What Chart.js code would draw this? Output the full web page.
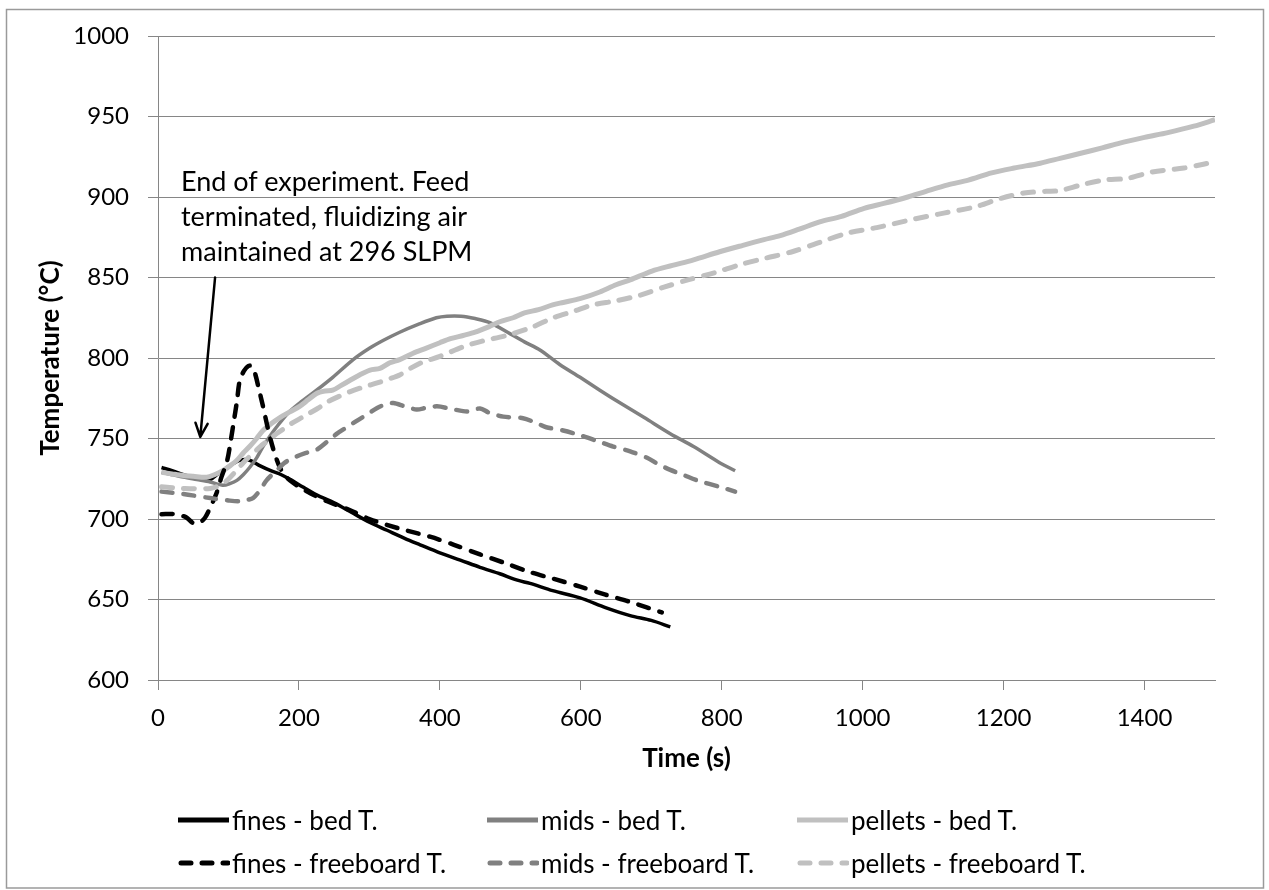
<!DOCTYPE html>
<html>
<head>
<meta charset="utf-8">
<script src="https://cdn.jsdelivr.net/npm/chart.js@4/dist/chart.umd.min.js"></script>
<style>
  html, body { margin: 0; padding: 0; background: #fff; }
  #wrap { position: relative; width: 1269px; height: 890px; }
  #c { position: absolute; left: 0; top: 0; }
  .note { position: absolute; left: 181px; top: 163px; font-family: Lato, sans-serif; font-size: 27px; line-height: 35px; color: #000; white-space: pre; }
  .leg { position: absolute; height: 36px; display: flex; align-items: center; font-family: Lato, sans-serif; font-size: 26px; color: #000; white-space: nowrap; }
  .leg svg { display: block; margin-right: 2px; }
</style>
</head>
<body>
<div id="wrap">
  <canvas id="c" width="1269" height="890"></canvas>
  <div class="note" id="note"></div>
  <div id="legend"></div>
</div>
<script>
// ---------- data ----------
const xTickValues = [0, 200, 400, 600, 800, 1000, 1200, 1400];
const yTickValues = [600, 650, 700, 750, 800, 850, 900, 950, 1000];

const timeFinesBed = [5, 20, 40, 60, 74, 85, 95, 105, 116, 130, 145, 160, 175, 190, 205, 225, 250, 275, 300, 325, 350, 372, 400, 429, 457, 485, 510, 528, 560, 599, 635, 670, 700, 727];
const tempFinesBed = [732, 730, 727, 725, 724.5, 728, 731, 734, 736.5, 736.5, 733, 730, 727.5, 724, 720, 715, 710, 704, 698, 693, 688, 684, 679, 674.5, 670, 666, 662, 660, 655.5, 651, 645, 640, 637, 633];

const timeMidsBed = [5, 20, 36, 55, 74, 92, 102, 112, 121, 130, 140, 149, 158, 168, 185, 201, 225, 248, 277, 300, 320, 343, 370, 395, 410, 430, 450, 471, 500, 520, 542, 570, 599, 627, 656, 690, 727, 760, 797, 819];
const tempMidsBed = [729, 727.5, 726, 724.5, 723, 721, 722, 724, 727.5, 732, 738, 745, 751, 757, 766, 772, 780, 788, 799, 806, 811, 816, 821, 825, 826, 826, 824.5, 822, 815, 810, 805, 796, 788, 780, 772, 763, 753, 745, 735, 730];

const timePelletsBed = [5, 20, 36, 50, 69, 80, 92, 102, 112, 121, 130, 140, 149, 160, 173, 187, 201, 213, 225, 237, 248, 260, 272, 286, 301, 315, 329, 343, 362, 380, 400, 415, 433, 450, 470, 485, 504, 520, 540, 560, 575, 600, 627, 650, 670, 701, 730, 760, 797, 830, 860, 883, 910, 939, 970, 1002, 1030, 1064, 1090, 1121, 1150, 1183, 1215, 1252, 1280, 1308, 1340, 1365, 1400, 1433, 1470, 1500];
const tempPelletsBed = [729, 728, 727, 726.5, 726, 727.5, 730, 733, 736.5, 741, 745, 750, 755, 759, 763, 766.5, 770, 774, 778, 779.5, 780, 783, 786, 789.5, 792.5, 793.5, 797, 799, 803, 806, 809.5, 812, 814, 816, 819.5, 822.5, 825, 828, 830, 833, 834.5, 837, 841, 845.5, 848.5, 854, 857.5, 861, 866, 870, 873.5, 876, 880, 884.5, 888, 893, 896, 900, 903.5, 907.5, 910.5, 915, 918, 921, 924, 927, 930.5, 933.5, 937, 940, 944, 948];

const timeFinesFree = [5, 24, 40, 50, 60, 67, 75, 83, 90, 98, 103, 107, 112, 116, 122, 128, 133, 138, 143, 149, 155, 160, 166, 173, 180, 187, 200, 216, 240, 272, 300, 343, 386, 420, 457, 490, 528, 560, 599, 635, 670, 715];
const tempFinesFree = [703, 703, 701, 697.5, 698, 701, 708, 716, 726, 736, 748, 759, 773, 786, 792, 795, 795, 790, 781, 770, 758, 749, 740, 732, 727, 724, 720, 716, 711, 705.6, 700, 694, 689, 684, 678, 673, 667, 663, 658, 653, 648.5, 642];

const timeMidsFree = [5, 36, 74, 100, 116, 128, 135, 145, 154, 168, 180, 192, 210, 225, 240, 254, 268, 282, 297, 311, 322, 334, 350, 367, 380, 396, 415, 433, 445, 457, 470, 490, 518, 535, 551, 575, 599, 623, 646, 670, 694, 710, 727, 745, 765, 797, 819];
const tempMidsFree = [717, 715.5, 713, 711.5, 711, 712, 713, 718, 724, 730, 735, 738, 741, 743, 748, 753, 757, 761, 765, 769, 771, 772, 770, 768, 769, 770, 768.5, 767, 767, 768.7, 766, 763.6, 762.6, 760, 757, 755, 752, 748.5, 745, 742, 738, 734, 730.5, 727.5, 724, 720, 717];

const timePelletsFree = [5, 36, 74, 88, 98, 110, 121, 133, 145, 157, 168, 180, 192, 204, 216, 228, 240, 256, 272, 292, 311, 328, 343, 360, 376, 400, 433, 460, 495, 530, 561, 590, 617, 650, 684, 718, 752, 790, 826, 862, 900, 940, 979, 1020, 1070, 1115, 1161, 1195, 1229, 1260, 1280, 1310, 1342, 1376, 1410, 1456, 1480, 1500];
const tempPelletsFree = [720, 719, 719, 721, 724, 729.5, 735, 740, 745, 749, 753, 756.5, 760, 763, 766, 769, 772.6, 776, 779, 782, 784.5, 787, 789.5, 794, 797.5, 801, 807, 810.5, 814, 819, 825, 829, 833, 835.5, 839, 844, 848.5, 853, 858, 862, 866, 872, 877.6, 881, 886, 890, 894, 899, 902.5, 903.5, 904, 907.5, 910.5, 911.6, 915.5, 918, 920, 922];

const seriesLabels = ['fines - bed T.', 'mids - bed T.', 'pellets - bed T.', 'fines - freeboard T.', 'mids - freeboard T.', 'pellets - freeboard T.'];
const noteLines = ['End of experiment. Feed', 'terminated, fluidizing air', 'maintained at 296 SLPM'];
const arrowTail = [81, 850];
const arrowTip = [60, 751];

// ---------- styles ----------
const seriesColors = ['#000000', '#808080', '#c0c0c0', '#000000', '#808080', '#c0c0c0'];
const seriesWidths = [3.5, 3.5, 5, 4.5, 4.5, 5];
const seriesDashed = [false, false, false, true, true, true];

const seriesTimes = [timeFinesBed, timeMidsBed, timePelletsBed, timeFinesFree, timeMidsFree, timePelletsFree];
const seriesTemps = [tempFinesBed, tempMidsBed, tempPelletsBed, tempFinesFree, tempMidsFree, tempPelletsFree];

const datasets = seriesLabels.map((lab, i) => ({
  label: lab,
  data: seriesTimes[i].map((t, k) => ({ x: t, y: seriesTemps[i][k] })),
  borderColor: seriesColors[i],
  backgroundColor: seriesColors[i],
  borderWidth: seriesWidths[i],
  borderDash: seriesDashed[i] ? [11, 11] : [],
  borderCapStyle: seriesDashed[i] ? 'round' : 'butt',
  borderJoinStyle: 'round',
  pointRadius: 0,
  tension: 0.3,
  fill: false,
  order: 10 - i
}));

const GRID = '#868686';

const framePlugin = {
  id: 'frame',
  beforeDraw(chart) {
    const ctx = chart.ctx;
    ctx.save();
    ctx.fillStyle = '#fff';
    ctx.fillRect(0, 0, chart.width, chart.height);
    ctx.strokeStyle = '#9a9a9a';
    ctx.lineWidth = 1.5;
    ctx.strokeRect(6.5, 9.5, 1257, 878.5);
    ctx.restore();
  },
  afterDatasetsDraw(chart) {
    const xs = chart.scales.x, ys = chart.scales.y;
    const x0 = xs.getPixelForValue(arrowTail[0]), y0 = ys.getPixelForValue(arrowTail[1]);
    const x1 = xs.getPixelForValue(arrowTip[0]), y1 = ys.getPixelForValue(arrowTip[1]);
    const ctx = chart.ctx;
    ctx.save();
    ctx.strokeStyle = '#000';
    ctx.lineWidth = 2.5;
    ctx.lineCap = 'round';
    ctx.lineJoin = 'round';
    ctx.beginPath();
    ctx.moveTo(x0, y0);
    ctx.lineTo(x1, y1);
    const ang = Math.atan2(y1 - y0, x1 - x0);
    const L = 15, a = 0.42;
    ctx.moveTo(x1 - L * Math.cos(ang - a), y1 - L * Math.sin(ang - a));
    ctx.lineTo(x1, y1);
    ctx.lineTo(x1 - L * Math.cos(ang + a), y1 - L * Math.sin(ang + a));
    ctx.stroke();
    ctx.restore();
  }
};

const plainLabel = v => String(v);

new Chart(document.getElementById('c'), {
  type: 'line',
  data: { datasets },
  plugins: [framePlugin],
  options: {
    responsive: false,
    animation: false,
    layout: { padding: { left: 0, top: 36, right: 54, bottom: 110 } },
    plugins: { legend: { display: false }, tooltip: { enabled: false } },
    scales: {
      x: {
        type: 'linear', min: 0, max: 1500,
        afterBuildTicks: s => { s.ticks = xTickValues.map(v => ({ value: v })); },
        afterFit: s => { s.height = 100; },
        ticks: { font: { family: 'Lato', size: 24 }, color: '#000', padding: 14, maxRotation: 0, autoSkip: false, callback: plainLabel },
        grid: { drawOnChartArea: false, drawTicks: true, tickLength: 10, color: GRID },
        border: { color: GRID, width: 1 },
        title: { display: true, text: 'Time (s)', color: '#000', font: { family: 'Lato', size: 26, weight: 'bold' }, padding: { top: 0, bottom: 6 } }
      },
      y: {
        type: 'linear', min: 600, max: 1000,
        afterBuildTicks: s => { s.ticks = yTickValues.map(v => ({ value: v })); },
        afterFit: s => { s.width = 158; },
        ticks: { font: { family: 'Lato', size: 24 }, color: '#000', padding: 19, callback: plainLabel },
        grid: { color: GRID, tickLength: 10, drawTicks: true },
        border: { color: GRID, width: 1 },
        title: { display: true, text: 'Temperature (°C)', color: '#000', font: { family: 'Lato', size: 26, weight: 'bold' }, padding: { top: 35, bottom: 0 } }
      }
    }
  }
});

// annotation text
document.getElementById('note').textContent = noteLines.join('\n');

// legend (3 columns x 2 rows)
const legCols = [178, 487, 797];
const legRows = [820, 863];
const legend = document.getElementById('legend');
seriesLabels.forEach((lab, i) => {
  const col = i % 3, row = Math.floor(i / 3);
  const d = document.createElement('div');
  d.className = 'leg';
  d.style.left = legCols[col] + 'px';
  d.style.top = (legRows[row] - 18) + 'px';
  const dash = seriesDashed[i] ? 'stroke-dasharray="10 11" stroke-linecap="round"' : 'stroke-linecap="butt"';
  const x1 = seriesDashed[i] ? 3 : 0, x2 = seriesDashed[i] ? 50 : 51;
  d.innerHTML = '<svg width="52" height="12"><line x1="' + x1 + '" y1="6" x2="' + x2 + '" y2="6" stroke="' + seriesColors[i] + '" stroke-width="5" ' + dash + '/></svg>';
  const sp = document.createElement('span');
  sp.textContent = lab;
  d.appendChild(sp);
  legend.appendChild(d);
});
</script>
</body>
</html>
